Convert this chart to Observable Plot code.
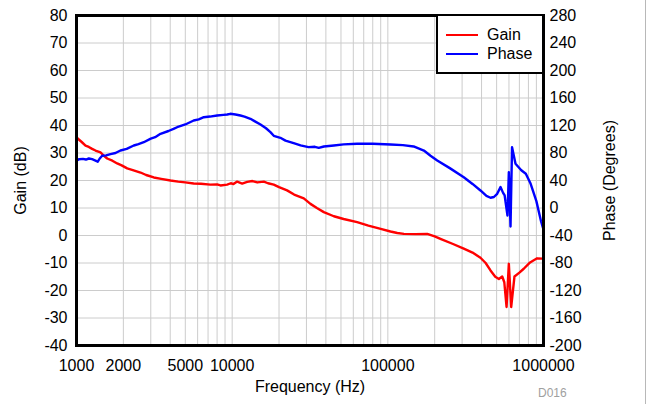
<!DOCTYPE html>
<html><head><meta charset="utf-8">
<script src="https://cdn.jsdelivr.net/npm/d3@7"></script>
<script src="https://cdn.jsdelivr.net/npm/@observablehq/plot@0.6"></script>
<style>
body{margin:0;background:#fff;font-family:"Liberation Sans",Arial,sans-serif;}
#wrap{position:relative;width:647px;height:404px;overflow:hidden;background:#fff;}
#wrap svg{position:absolute;left:0;top:0;}
#legend{position:absolute;left:436px;top:14px;width:108px;height:60px;border:2px solid #000;box-sizing:border-box;background:#fff;}
#legend .ln{position:absolute;left:8px;width:32px;height:2.4px;}
#legend .tx{position:absolute;left:49px;font-size:16px;line-height:18px;color:#000;}
#code{position:absolute;left:538px;top:386px;font-size:12px;color:#a0a0a0;}
#edge{position:absolute;left:645px;top:0;width:1px;height:404px;background:#b8b8b8;}
</style></head><body><div id="wrap"></div>
<script>
// ---- data ----
const gainFreq = [1000,1030,1080,1143,1200,1260,1324,1426,1500,1575,1700,1826,1950,2117,2300,2577,2800,3137,3500,4016,4500,5000,5660,6300,7249,8000,8413,9283,9800,10200,10770,11600,12480,13500,14500,15970,17000,18500,20000,22530,25000,28850,31840,35000,38800,45000,52000,63500,75000,90000,104000,115000,126800,150000,179000,200000,217700,260000,307500,350000,393600,425000,456600,490000,516800,542900,560000,579000,598900,620000,651000,700000,746700,820000,910000,1000000];
const gainDb = [35.8,35.0,34.0,32.7,32.2,31.5,30.9,30.2,29.0,28.0,27.2,26.2,25.5,24.4,23.8,22.9,22.0,21.1,20.6,20.0,19.6,19.3,18.9,18.8,18.5,18.6,18.2,18.5,19.0,18.7,19.6,18.9,19.5,19.8,19.3,19.6,19.0,18.5,17.6,16.4,14.9,13.5,11.5,10.0,8.5,7.0,6.0,4.85,3.6,2.4,1.45,0.9,0.6,0.5,0.6,-0.3,-1.2,-3.0,-4.8,-6.2,-8.1,-10.0,-12.7,-15.0,-15.8,-14.9,-17.0,-26,-10.3,-26,-14.9,-13.5,-12.1,-9.8,-8.3,-8.4];
const phaseFreq = [1000,1040,1100,1150,1200,1260,1324,1370,1410,1462,1550,1653,1780,1917,2100,2334,2500,2705,3000,3200,3464,3900,4200,4430,5000,5660,6100,6571,7200,8004,8800,9300,9727,10500,11300,12000,13100,14000,15200,16500,17610,18500,20400,22000,24830,27500,30930,34000,36000,38800,45000,52000,63500,80000,104000,125000,146500,170400,188000,207600,250000,307500,350000,393600,430000,456600,480000,504000,529500,550000,563000,587000,598900,614000,628000,661000,720000,770000,827000,900000,965000,1000000];
const phaseDeg = [69,71,71.5,70.5,72,71,69,67.3,72,76,76.5,78.4,80,83.6,86,90.9,93,95.7,101,103,107.9,112,115,117.5,121.5,127.3,129,132.1,133,134.5,135.5,136,137,136,134.5,133,129.8,126,121.5,116,110.3,105,102.1,98,94.3,91,88.5,89,87.5,89.5,91,92.5,93.5,93.5,92.4,91.5,89.5,83.6,76,69.1,58,44.8,35,25.5,17.5,14.9,16,20.7,30.4,22,18.2,-10.9,52,-27,88.4,64.3,55,49.8,35.2,10,-19.6,-31.6];
const gainTicks = [-40,-30,-20,-10,0,10,20,30,40,50,60,70,80];
const phaseTicks = [-200,-160,-120,-80,-40,0,40,80,120,160,200,240,280];
const freqTickLabels = [1000,2000,5000,10000,100000,1000000];
const gridFreqs = [1000,2000,3000,4000,5000,6000,7000,8000,9000,10000,20000,30000,40000,50000,60000,70000,80000,90000,100000,200000,300000,400000,500000,600000,700000,800000,900000,1000000];

// phase axis (right) shares the gain scale: gain = (phase + 40) / 4
const toGain = p => (p + 40) / 4;
const gainRows = gainFreq.map((f, i) => ({f, v: gainDb[i]}));
const phaseRows = phaseFreq.map((f, i) => ({f, v: toGain(phaseDeg[i])}));

const plot = Plot.plot({
  width: 647, height: 404,
  marginLeft: 76, marginRight: 104, marginTop: 15, marginBottom: 59,
  style: {fontSize: "16px", fontFamily: "'Liberation Sans', Arial, sans-serif", color: "#000", background: "transparent"},
  x: {type: "log", domain: [1000, 1000000]},
  y: {domain: [-40, 80]},
  marks: [
    Plot.gridX(gridFreqs, {stroke: "#cccccc", strokeOpacity: 1, strokeWidth: 1}),
    Plot.gridY(gainTicks, {stroke: "#cccccc", strokeOpacity: 1, strokeWidth: 1}),
    Plot.line(gainRows, {x: "f", y: "v", stroke: "#ff0000", strokeWidth: 2.4}),
    Plot.line(phaseRows, {x: "f", y: "v", stroke: "#0000ff", strokeWidth: 2.4}),
    Plot.axisY(gainTicks, {anchor: "left", tickSize: 0, tickPadding: 9, tickFormat: d => String(d),
      label: "Gain (dB)", labelAnchor: "center", labelArrow: "none", labelOffset: 62}),
    Plot.axisY(phaseTicks.map(toGain), {anchor: "right", tickSize: 0, tickPadding: 6, tickFormat: g => String(4 * g - 40),
      label: "Phase (Degrees)", labelAnchor: "center", labelArrow: "none", labelOffset: 71}),
    Plot.axisX(freqTickLabels, {anchor: "bottom", tickSize: 0, tickPadding: 14, tickFormat: () => "",
      label: "Frequency (Hz)", labelAnchor: "center", labelArrow: "none", labelOffset: 46}),
    Plot.text(freqTickLabels, {x: d => d, text: d => String(d), frameAnchor: "bottom", dy: 20,
      lineAnchor: "middle", textAnchor: "middle", fontSize: 16, fill: "#000"}),
    Plot.frame({stroke: "#000", strokeWidth: 3})
  ]
});

const wrap = document.getElementById("wrap");
wrap.appendChild(plot);
const legend = document.createElement("div");
legend.id = "legend";
legend.innerHTML =
  '<div class="ln" style="top:18px;background:#ff0000"></div><div class="tx" style="top:10px">Gain</div>' +
  '<div class="ln" style="top:36.5px;background:#0000ff"></div><div class="tx" style="top:29px">Phase</div>';
wrap.appendChild(legend);
const code = document.createElement("div");
code.id = "code"; code.textContent = "D016";
wrap.appendChild(code);
const edge = document.createElement("div");
edge.id = "edge";
wrap.appendChild(edge);
</script>
</body></html>
